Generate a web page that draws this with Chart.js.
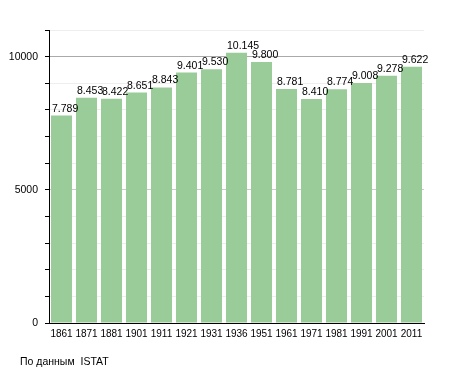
<!DOCTYPE html>
<html>
<head>
<meta charset="utf-8">
<script src="https://cdn.jsdelivr.net/npm/chart.js@4/dist/chart.umd.min.js"></script>
<style>
  html, body { margin: 0; padding: 0; background: #fff; }
  #wrap { position: relative; width: 455px; height: 373px; }
  #foot { position: absolute; left: 20px; top: 355px; font: 10.5px "Liberation Sans", Arial, sans-serif; color: #000; white-space: pre; }
</style>
</head>
<body>
<div id="wrap">
  <canvas id="c" width="455" height="373"></canvas>
  <div id="foot">По данным  ISTAT</div>
</div>
<script>
const years = ["1861","1871","1881","1901","1911","1921","1931","1936","1951","1961","1971","1981","1991","2001","2011"];
const population = [7789, 8453, 8422, 8651, 8843, 9401, 9530, 10145, 9800, 8781, 8410, 8774, 9008, 9278, 9622];
const yLabelValues = [0, 5000, 10000];

function fmt(v) {
  const s = String(v);
  return s.replace(/\B(?=(\d{3})+(?!\d))/g, ".");
}

const FONT = "'Liberation Sans', Arial, sans-serif";

const valueLabels = {
  id: 'valueLabels',
  afterDatasetsDraw(chart) {
    const ctx = chart.ctx;
    const meta = chart.getDatasetMeta(0);
    ctx.save();
    ctx.font = "10.5px " + FONT;
    ctx.fillStyle = "#000";
    ctx.textAlign = "left";
    ctx.textBaseline = "alphabetic";
    meta.data.forEach((bar, i) => {
      const v = chart.data.datasets[0].data[i];
      ctx.fillText(fmt(v), bar.x - bar.width / 2 + 1, bar.y - 4);
    });
    ctx.restore();
  }
};

new Chart(document.getElementById('c'), {
  type: 'bar',
  data: {
    labels: years,
    datasets: [{
      data: population,
      backgroundColor: 'rgb(153,204,153)',
      borderWidth: 0,
      barPercentage: 0.84,
      categoryPercentage: 1.0
    }]
  },
  options: {
    responsive: false,
    animation: false,
    devicePixelRatio: 1,
    layout: { padding: { left: 0, right: 31, top: 30, bottom: 0 } },
    plugins: { legend: { display: false }, tooltip: { enabled: false } },
    scales: {
      x: {
        grid: { display: false, drawTicks: false },
        border: { display: true, color: '#000', width: 1 },
        ticks: { color: '#000', font: { family: FONT, size: 10 }, padding: 5, maxRotation: 0, autoSkip: false },
        afterFit(scale) { scale.height = 50; }
      },
      y: {
        min: 0, max: 11000,
        border: { display: true, color: '#000', width: 1 },
        grid: {
          color(ctx) {
            const v = ctx.tick && ctx.tick.value;
            if (v === 0) return 'rgba(0,0,0,0)';
            if (v === 10000) return '#aaaaaa';
            if (v === 5000) return '#cccccc';
            return '#eeeeee';
          },
          tickColor: '#000',
          tickLength: 4,
          drawTicks: true
        },
        ticks: {
          stepSize: 1000,
          color: '#000',
          padding: 7,
          font: { family: FONT, size: 10.5 },
          callback(v) { return yLabelValues.includes(v) ? String(v) : ''; }
        },
        afterFit(scale) { scale.width = 49; }
      }
    }
  },
  plugins: [valueLabels]
});
</script>
</body>
</html>
